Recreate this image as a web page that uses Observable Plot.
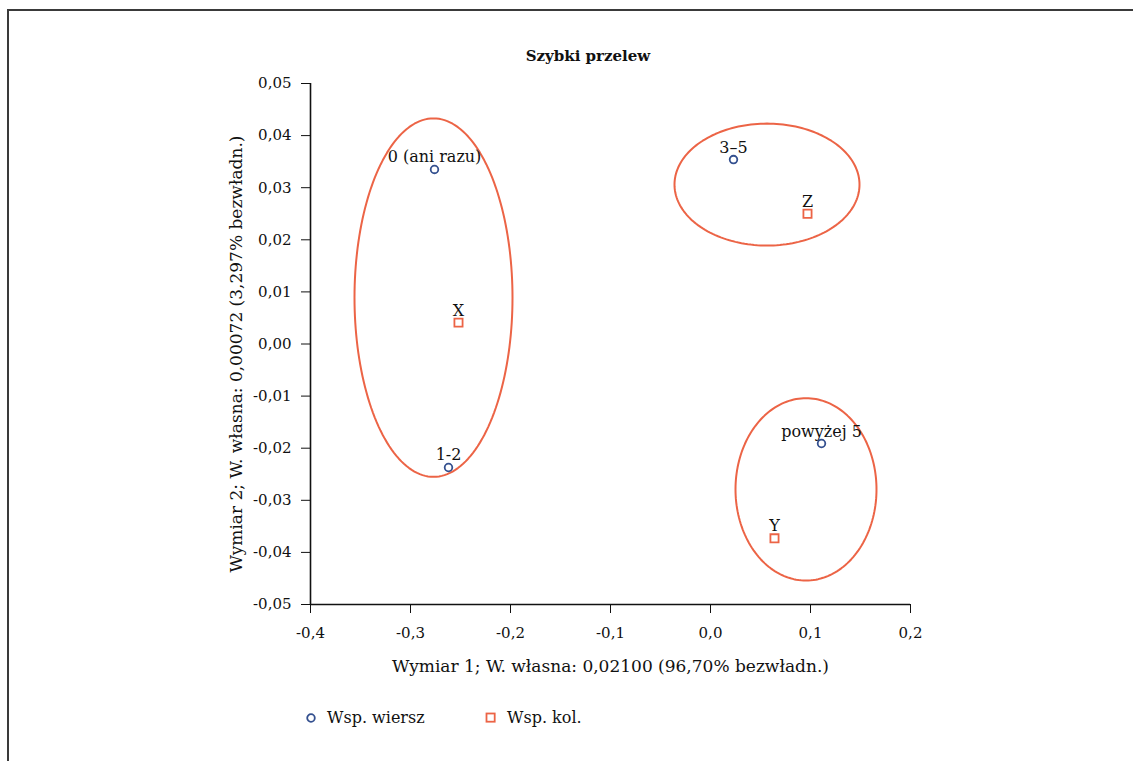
<!DOCTYPE html>
<html><head><meta charset="utf-8">
<script src="https://cdn.jsdelivr.net/npm/d3@7"></script>
<script src="https://cdn.jsdelivr.net/npm/@observablehq/plot@0.6"></script>
<style>
body{margin:0;background:#fff;font-family:"DejaVu Serif",serif;color:#111;}
#wrap{position:relative;width:1133px;height:761px;overflow:hidden;background:#fff;}
#frame{position:absolute;left:7px;top:9px;width:1300px;height:900px;border:2px solid #3a3a3a;box-sizing:border-box;}
#title{position:absolute;top:47px;left:0;width:1176px;text-align:center;font-weight:bold;font-size:15px;}
#chart{position:absolute;left:0;top:0;}
#legend{position:absolute;top:708px;left:0;font-size:16px;}
.li{position:absolute;white-space:nowrap;display:flex;align-items:center;}
.li svg{margin-right:10px;}
</style></head>
<body>
<div id="wrap">
  <div id="frame"></div>
  <div id="title"></div>
  <div id="chart"></div>
  <div id="legend"></div>
</div>
<script>
const titleText = "Szybki przelew";
const xLabel = "Wymiar 1; W. własna: 0,02100 (96,70% bezwładn.)";
const yLabel = "Wymiar 2; W. własna: 0,00072 (3,297% bezwładn.)";

const rowLabels = ["0 (ani razu)", "1-2", "3–5", "powyżej 5"];
const rowX = [-0.276, -0.262, 0.023, 0.111];
const rowY = [0.0335, -0.0237, 0.0354, -0.0191];

const colLabels = ["X", "Y", "Z"];
const colX = [-0.252, 0.064, 0.097];
const colY = [0.0041, -0.0373, 0.0250];

const ellipseCX = [-0.277, 0.0565, 0.0955];
const ellipseCY = [0.0089, 0.0306, -0.0279];
const ellipseRX = [0.079, 0.0925, 0.0705];
const ellipseRY = [0.0344, 0.0117, 0.0175];

const xTicks = [-0.4, -0.3, -0.2, -0.1, 0.0, 0.1, 0.2];
const yTicks = [0.05, 0.04, 0.03, 0.02, 0.01, 0.00, -0.01, -0.02, -0.03, -0.04, -0.05];

const legendLabels = ["Wsp. wiersz", "Wsp. kol."];

const blue = "#34508f";
const orange = "#ec6446";

const rows = rowLabels.map((l, i) => ({label: l, x: rowX[i], y: rowY[i]}));
const cols = colLabels.map((l, i) => ({label: l, x: colX[i], y: colY[i]}));
const ellPts = [];
ellipseCX.forEach((cx, i) => {
  for (let a = 0; a <= 360; a += 2) {
    const t = a * Math.PI / 180;
    ellPts.push({e: i, x: cx + ellipseRX[i] * Math.cos(t), y: ellipseCY[i] + ellipseRY[i] * Math.sin(t)});
  }
});

const fmt = (d) => d.toFixed(2).replace(".", ",");
const fmtX = (d) => d.toFixed(1).replace(".", ",");

document.getElementById("title").textContent = titleText;

const chart = Plot.plot({
  width: 1133,
  height: 761,
  marginLeft: 310,
  marginRight: 223,
  marginTop: 83,
  marginBottom: 157,
  style: {fontFamily: '"DejaVu Serif", serif', fontSize: "15px", color: "#111", background: "transparent"},
  x: {domain: [-0.4, 0.2], ticks: xTicks, tickFormat: fmtX, tickSize: 9, tickPadding: 14, label: null},
  y: {domain: [-0.05, 0.05], ticks: yTicks, tickFormat: fmt, tickSize: 9, tickPadding: 10, label: null},
  marks: [
    Plot.ruleX([-0.4], {stroke: "#111", strokeWidth: 1.6}),
    Plot.ruleY([-0.05], {stroke: "#111", strokeWidth: 1.6}),
    Plot.line(ellPts, {x: "x", y: "y", z: "e", stroke: orange, strokeWidth: 2}),
    Plot.dot(rows, {x: "x", y: "y", r: 3.8, stroke: blue, strokeWidth: 1.8, fill: "white"}),
    Plot.dot(cols, {x: "x", y: "y", symbol: "square", r: 4.6, stroke: orange, strokeWidth: 1.8, fill: "white"}),
    Plot.text(rows, {x: "x", y: "y", text: "label", dy: -7, lineAnchor: "bottom", fontSize: 16, fill: "#111"}),
    Plot.text(cols, {x: "x", y: "y", text: "label", dy: -7, lineAnchor: "bottom", fontSize: 16, fill: "#111"}),
    Plot.text([xLabel], {frameAnchor: "bottom", dy: 67, fontSize: 17, fill: "#111"}),
    Plot.text([yLabel], {frameAnchor: "left", textAnchor: "middle", dx: -74, dy: 10, rotate: -90, fontSize: 17, fill: "#111"})
  ]
});
document.getElementById("chart").appendChild(chart);

const legend = document.getElementById("legend");
const items = [
  {label: legendLabels[0], left: 305, sym: `<circle cx="6" cy="6" r="3.8" fill="white" stroke="${blue}" stroke-width="1.8"/>`},
  {label: legendLabels[1], left: 485, sym: `<rect x="1.5" y="1.5" width="8.2" height="8.2" fill="white" stroke="${orange}" stroke-width="1.8"/>`}
];
items.forEach(it => {
  const d = document.createElement("div");
  d.className = "li";
  d.style.left = it.left + "px";
  d.innerHTML = `<svg width="12" height="12">${it.sym}</svg><span>${it.label}</span>`;
  legend.appendChild(d);
});
</script>
</body></html>
